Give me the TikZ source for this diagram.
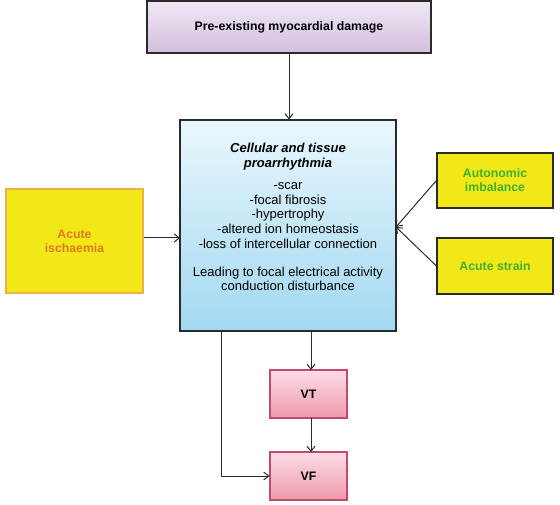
\documentclass[tikz,border=0pt]{standalone}
\usepackage{fontspec}
\setmainfont{Liberation Sans}
\usetikzlibrary{arrows.meta}
\definecolor{lavtop}{HTML}{F0E8F4}
\definecolor{lavbot}{HTML}{D2BFDF}
\definecolor{bluetop}{HTML}{EAF7FD}
\definecolor{bluebot}{HTML}{A2D8F1}
\definecolor{yel}{HTML}{F2E818}
\definecolor{orgtxt}{HTML}{E07A20}
\definecolor{orgborder}{HTML}{F0B048}
\definecolor{grntxt}{HTML}{3EB035}
\definecolor{pinktop}{HTML}{FBDCE4}
\definecolor{pinkbot}{HTML}{F09AAE}
\definecolor{pinkborder}{HTML}{C24A6A}
\definecolor{darkline}{HTML}{2A2A2A}
\tikzset{
  x=1pt,y=-1pt,
  box/.style={draw=darkline,line width=1.1pt,inner sep=2pt,align=center,font=\fontsize{12.3}{14}\selectfont\bfseries},
  lavbox/.style={box,top color=lavtop,bottom color=lavbot},
  bluebox/.style={box,top color=bluetop,bottom color=bluebot},
  yelbox/.style={box,fill=yel,draw=darkline,text=grntxt},
  pinkbox/.style={box,top color=pinktop,bottom color=pinkbot,draw=pinkborder},
  conn/.style={draw=darkline,line width=1pt,-{Straight Barb[length=5pt,width=8pt]}},
}
\begin{document}
\begin{tikzpicture}
\useasboundingbox (0,0) rectangle (560,505);
\node[lavbox,minimum width=284pt,minimum height=52pt] (top) at (289,27) {Pre-existing myocardial damage};
\node[bluebox,minimum width=216pt,minimum height=211pt] (main) at (288,225.5) {};
\node[font=\fontsize{13}{14.75}\selectfont,align=center,anchor=north] (mtxt) at (288,140)
{\textbf{\textit{Cellular and tissue}}\\ \textbf{\textit{proarrhythmia}}\\[7pt]
-scar\\ -focal fibrosis\\ -hypertrophy\\ -altered ion homeostasis\\ -loss of intercellular connection\\[13pt]
Leading to focal electrical activity\\ conduction disturbance};
\node[box,fill=yel,draw=orgborder,text=orgtxt,minimum width=137pt,minimum height=104pt] (isch) at (74.5,241) {Acute\\ ischaemia};
\node[yelbox,minimum width=116pt,minimum height=55pt] (auto) at (495,180.5) {Autonomic\\ imbalance};
\node[yelbox,minimum width=116pt,minimum height=56pt] (strain) at (495,266) {Acute strain};
\node[pinkbox,minimum width=77pt,minimum height=48pt] (vt) at (308.5,394) {VT};
\node[pinkbox,minimum width=77pt,minimum height=48pt] (vf) at (308.5,476) {VF};
\coordinate (mainin) at (396,227);
\coordinate (mainleft) at (180,238);
\draw[conn] (top.south) -- (top.south |- main.north);
\draw[conn] (isch.east |- mainleft) -- (mainleft);
\draw[conn] (auto.west) -- (mainin);
\draw[conn] (strain.west) -- (mainin);
\draw[conn] (311,331) -- (311,370);
\draw[conn] (311,418) -- (311,452);
\draw[conn] (221,331) |- (vf.west);
\end{tikzpicture}
\end{document}
